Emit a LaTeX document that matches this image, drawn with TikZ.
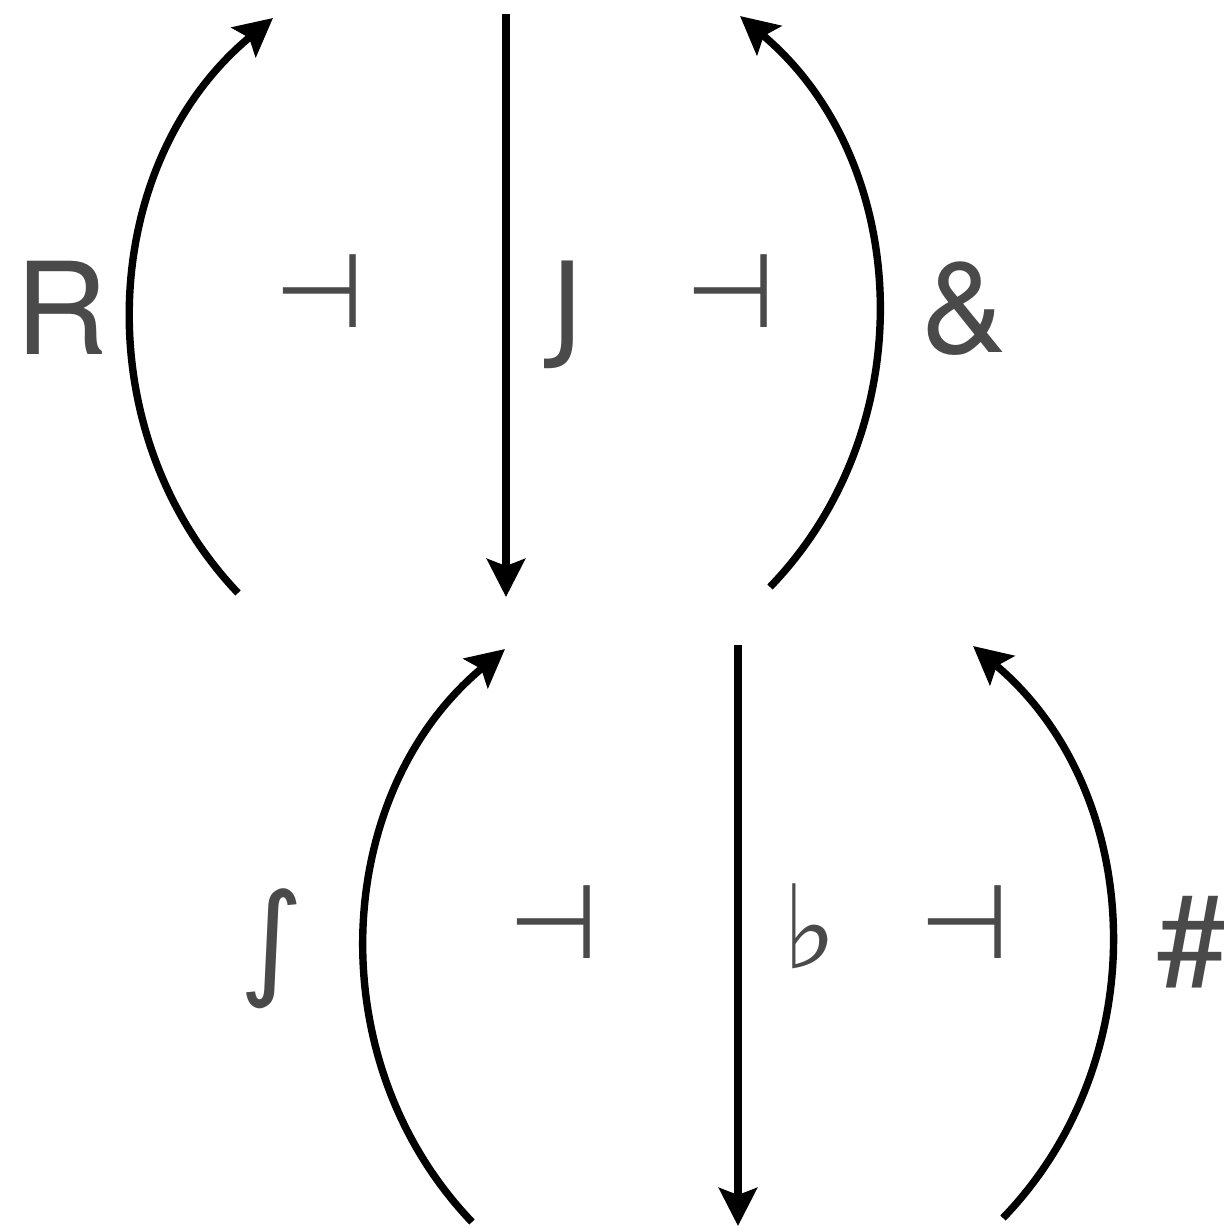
\documentclass[tikz,border=0pt]{standalone}
\usepackage{fontspec}
\setmainfont{TeX Gyre Heros}
\newfontfamily\dvs{DejaVu Sans}
\usetikzlibrary{arrows.meta}
\definecolor{ink}{HTML}{4A4A4A}
\begin{document}
\begin{tikzpicture}[x=0.5pt,y=-0.5pt,
  arr/.style={line width=3.7pt,-{Stealth[length=19pt,width=19pt,inset=3.5pt]}},
  lab/.style={text=ink,inner sep=0pt,font=\fontsize{64}{64}\selectfont},
  sym/.style={text=ink,inner sep=0pt,font=\dvs\fontsize{58}{58}\selectfont},
  tack/.style={text=ink,inner sep=0pt,font=\dvs\fontsize{52}{52}\selectfont}]
\useasboundingbox (0,0) rectangle (1224,1228);
% top row
\coordinate (a1) at (238,593); \coordinate (a2) at (273,18);
\coordinate (v1) at (506,14);  \coordinate (v2) at (506,597);
\coordinate (b1) at (770,587); \coordinate (b2) at (740,16);
% bottom row
\coordinate (c1) at (472,1222); \coordinate (c2) at (505,649);
\coordinate (w1) at (738,645);  \coordinate (w2) at (738,1226);
\coordinate (d1) at (1003,1218); \coordinate (d2) at (973,646);
\draw[arr] (a1) to[bend left=47] (a2);
\draw[arr] (v1) -- (v2);
\draw[arr] (b1) to[bend right=47] (b2);
\draw[arr] (c1) to[bend left=47] (c2);
\draw[arr] (w1) -- (w2);
\draw[arr] (d1) to[bend right=47] (d2);
% labels
\node[lab] (R) at (61.5,307.5) {R};
\node[tack] (t1) at (319.5,291) {⊣};
\node[sym] (J) at (568,315) {J};
\node[tack] (t2) at (730.5,291) {⊣};
\node[lab] (amp) at (964,308.5) {\&};
\node[sym,font=\dvs\fontsize{62}{62}\selectfont] (int) at (272,948.5) {∫};
\node[tack] (t3) at (554,922.5) {⊣};
\node[sym] (flat) at (809.5,926.5) {♭};
\node[tack] (t4) at (964.5,922.5) {⊣};
\node[lab] (hash) at (1192.5,942) {\#};
\end{tikzpicture}
\end{document}
